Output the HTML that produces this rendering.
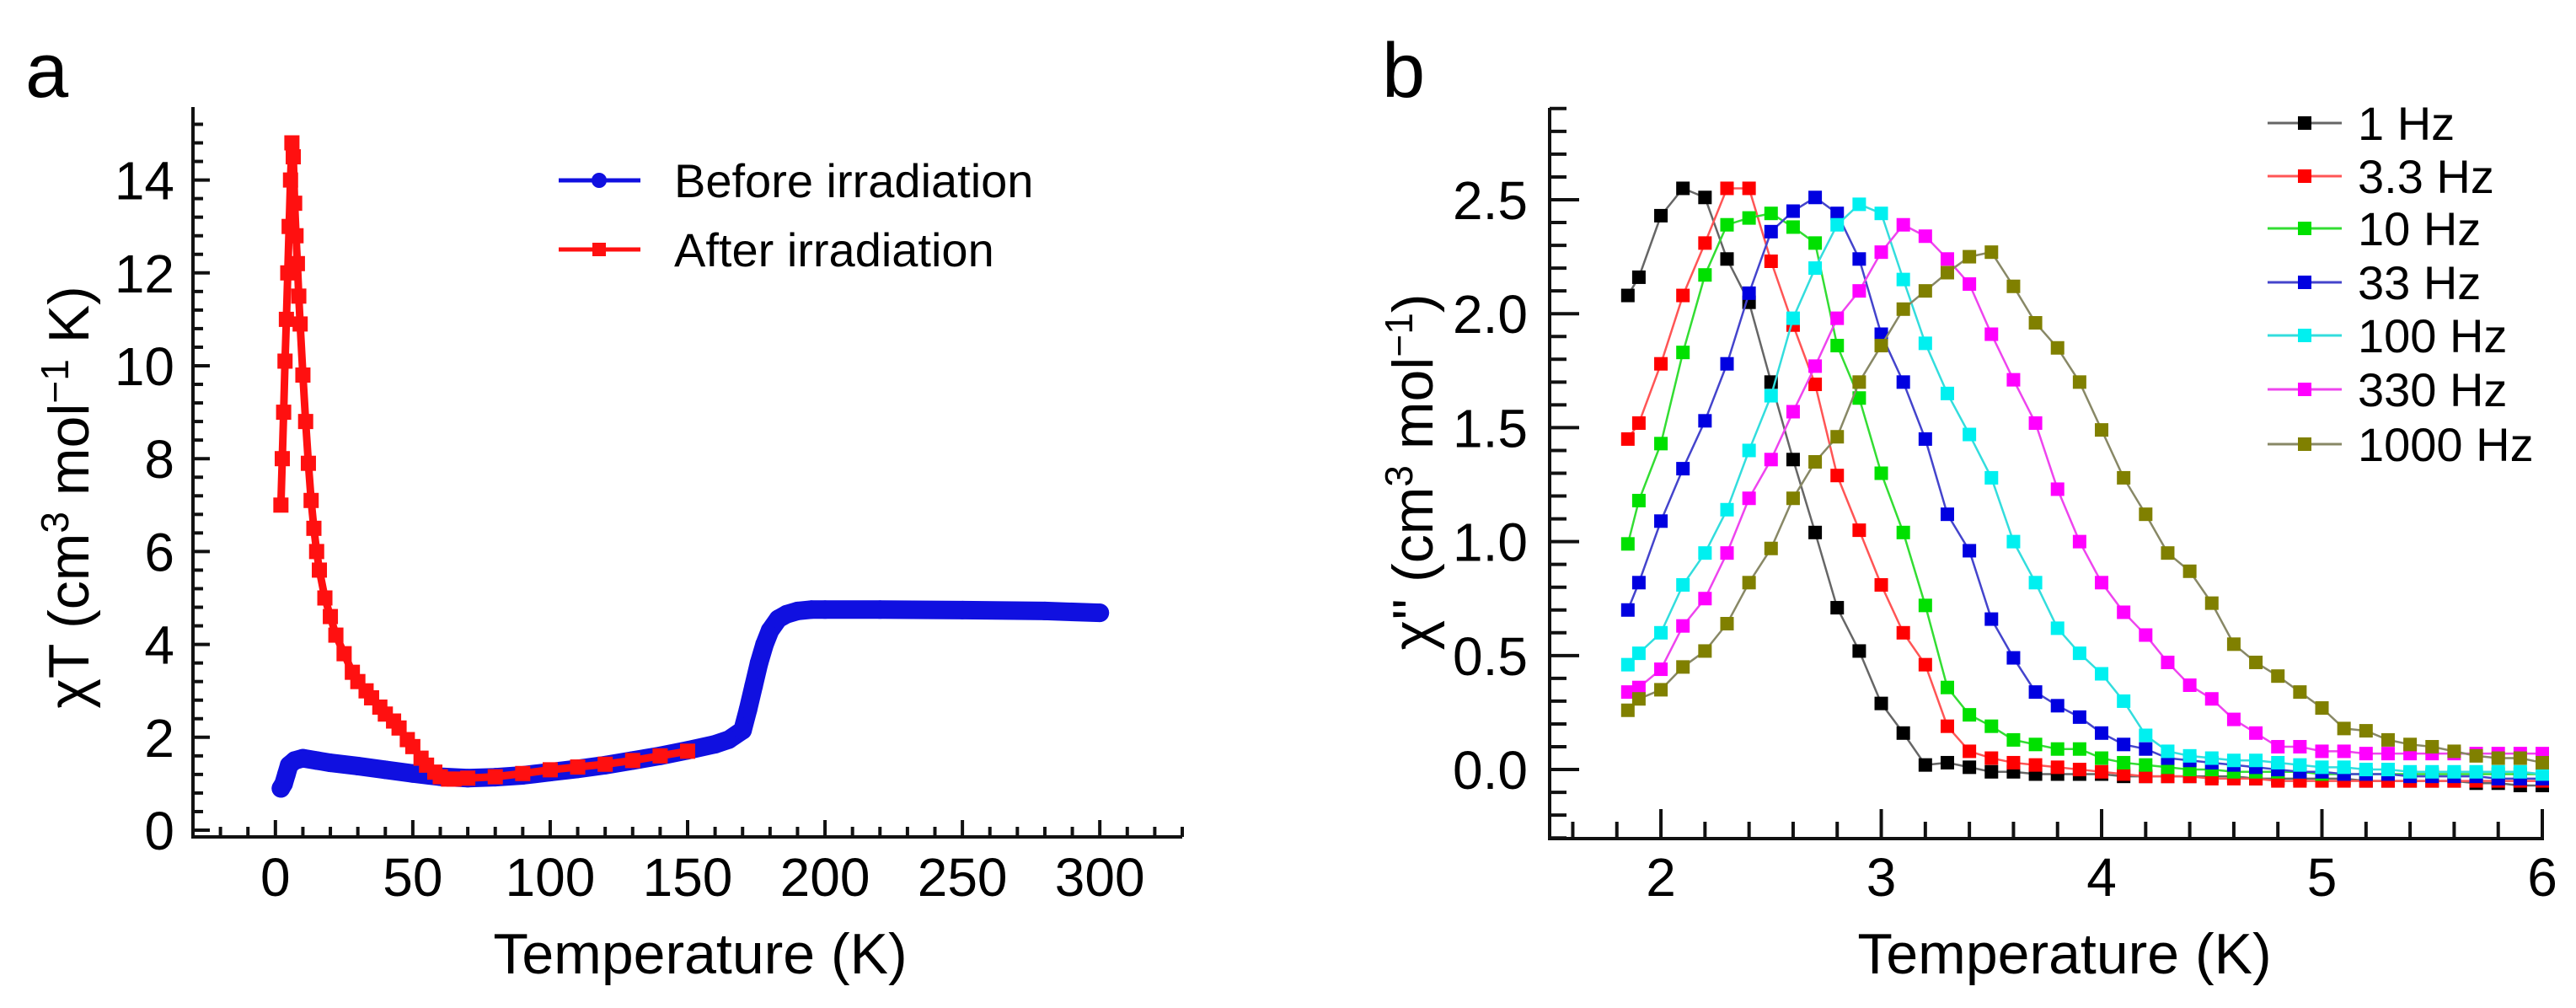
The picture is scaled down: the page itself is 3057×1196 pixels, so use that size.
<!DOCTYPE html>
<html><head><meta charset="utf-8">
<style>
html,body{margin:0;padding:0;background:#fff;}
svg{display:block;font-family:"Liberation Sans",Arial,sans-serif;}
</style></head>
<body>
<svg id="chart" width="3057" height="1196" viewBox="0 0 3057 1196" xmlns="http://www.w3.org/2000/svg">
<rect width="3057" height="1196" fill="#fff"/>
<g id="pa"></g>
<g id="pb"></g>
</svg>
<script>
// ---- Panel a data ----
const aBeforeT = [2,3,4,5,7,10,15,20,30,40,50,60,70,80,90,100,110,120,130,140,150,160,165,170,172,174,176,178,180,183,186,190,195,200,220,250,280,300];
const aBeforeY = [0.9,1.0,1.2,1.4,1.5,1.55,1.5,1.45,1.38,1.3,1.22,1.15,1.12,1.14,1.18,1.25,1.32,1.4,1.5,1.6,1.72,1.85,1.95,2.15,2.6,3.1,3.6,4.0,4.3,4.55,4.65,4.72,4.75,4.75,4.75,4.74,4.72,4.68];
const aAfterT = [2,2.5,3,3.5,4,4.5,5,5.5,6,6.5,7,7.5,8,8.5,9,10,11,12,13,14,15,16,18,20,22,25,28,30,33,35,38,40,43,45,48,50,53,55,58,60,63,65,70,80,90,100,110,120,130,140,150];
const aAfterY = [7.0,8.0,9.0,10.1,11.0,12.0,13.0,14.0,14.8,14.5,13.5,12.8,12.2,11.5,10.9,9.8,8.8,7.9,7.1,6.5,6.0,5.6,5.0,4.6,4.2,3.8,3.4,3.2,3.0,2.85,2.65,2.5,2.35,2.2,1.95,1.8,1.55,1.4,1.25,1.15,1.1,1.1,1.12,1.15,1.22,1.3,1.36,1.42,1.5,1.6,1.7];
const aXTicks = [0,50,100,150,200,250,300];
const aYTicks = [0,2,4,6,8,10,12,14];
const aLegend = ["Before irradiation","After irradiation"];

// ---- Panel b data ----
const bT = [1.85,1.9,2.0,2.1,2.2,2.3,2.4,2.5,2.6,2.7,2.8,2.9,3.0,3.1,3.2,3.3,3.4,3.5,3.6,3.7,3.8,3.9,4.0,4.1,4.2,4.3,4.4,4.5,4.6,4.7,4.8,4.9,5.0,5.1,5.2,5.3,5.4,5.5,5.6,5.7,5.8,5.9,6.0];
const b1Hz = [2.08,2.16,2.43,2.55,2.51,2.24,2.05,1.7,1.36,1.04,0.71,0.52,0.29,0.16,0.02,0.03,0.01,-0.01,-0.01,-0.02,-0.02,-0.02,-0.02,-0.03,-0.03,-0.03,-0.03,-0.03,-0.03,-0.04,-0.04,-0.04,-0.04,-0.04,-0.05,-0.05,-0.05,-0.05,-0.05,-0.06,-0.06,-0.07,-0.07];
const b3Hz = [1.45,1.52,1.78,2.08,2.31,2.55,2.55,2.23,1.95,1.69,1.29,1.05,0.81,0.60,0.46,0.19,0.08,0.05,0.03,0.02,0.01,0.0,-0.01,-0.02,-0.03,-0.03,-0.03,-0.04,-0.04,-0.04,-0.05,-0.05,-0.05,-0.05,-0.05,-0.05,-0.05,-0.05,-0.05,-0.05,-0.05,-0.05,-0.05];
const b10Hz = [0.99,1.18,1.43,1.83,2.17,2.39,2.42,2.44,2.38,2.31,1.86,1.63,1.30,1.04,0.72,0.36,0.24,0.19,0.13,0.11,0.09,0.09,0.05,0.03,0.02,0.01,0.0,0.0,-0.01,-0.01,-0.01,-0.01,-0.02,-0.02,-0.02,-0.02,-0.02,-0.02,-0.02,-0.02,-0.02,-0.02,-0.02];
const b33Hz = [0.70,0.82,1.09,1.32,1.53,1.78,2.09,2.36,2.45,2.51,2.44,2.24,1.91,1.70,1.45,1.12,0.96,0.66,0.49,0.34,0.28,0.23,0.16,0.11,0.09,0.05,0.04,0.03,0.02,0.01,0.0,-0.01,-0.01,-0.02,-0.02,-0.02,-0.03,-0.03,-0.03,-0.03,-0.04,-0.04,-0.04];
const b100Hz = [0.46,0.51,0.60,0.81,0.95,1.14,1.40,1.64,1.98,2.20,2.39,2.48,2.44,2.15,1.87,1.65,1.47,1.28,1.00,0.82,0.62,0.51,0.42,0.30,0.15,0.08,0.06,0.05,0.04,0.04,0.03,0.02,0.01,0.01,0.0,0.0,-0.01,-0.01,-0.01,-0.01,-0.01,-0.01,-0.02];
const b330Hz = [0.34,0.36,0.44,0.63,0.75,0.95,1.19,1.36,1.57,1.77,1.98,2.10,2.27,2.39,2.34,2.24,2.13,1.91,1.71,1.52,1.23,1.00,0.82,0.69,0.59,0.47,0.37,0.31,0.22,0.16,0.10,0.10,0.08,0.08,0.07,0.07,0.07,0.07,0.07,0.07,0.07,0.07,0.07];
const b1000Hz = [0.26,0.31,0.35,0.45,0.52,0.64,0.82,0.97,1.19,1.35,1.46,1.70,1.86,2.02,2.10,2.18,2.25,2.27,2.12,1.96,1.85,1.70,1.49,1.28,1.12,0.95,0.87,0.73,0.55,0.47,0.41,0.34,0.27,0.18,0.17,0.13,0.11,0.10,0.08,0.06,0.05,0.05,0.03];
const bSeriesNames = ["1 Hz","3.3 Hz","10 Hz","33 Hz","100 Hz","330 Hz","1000 Hz"];
const bXTicks = [2,3,4,5,6];
const bYTicks = [0.0,0.5,1.0,1.5,2.0,2.5];
const bYTickLabels = ["0.0","0.5","1.0","1.5","2.0","2.5"];

const NS="http://www.w3.org/2000/svg";
function mk(parent,tag,attrs,text){const e=document.createElementNS(NS,tag);for(const k in attrs)e.setAttribute(k,attrs[k]);if(text!==undefined)e.textContent=text;parent.appendChild(e);return e;}

// ===== Panel a =====
(function(){
const g=document.getElementById('pa');
const X0=229,X1=1403,Y0=993,Y1=127;
const xmin=-30,xmax=330;
const yPx=55.1, yZero=985;
const sx=v=>X0+(v-xmin)/(xmax-xmin)*(X1-X0);
const sy=v=>yZero-v*yPx;
let t=mk(g,'text',{x:30,y:115,'font-size':92,fill:'#000'},'a');


let ax=mk(g,'path',{d:`M${X0},${Y1} V${Y0} H${X1}`,stroke:'#111',fill:'none','stroke-width':4});


for(let v=-20;v<=330;v+=10){const maj=(v%50===0);const l=mk(g,'line',{x1:sx(v),x2:sx(v),y1:Y0,y2:Y0-(maj?20:12),stroke:'#111','stroke-width':4});

}
for(let i=0;i*0.4<=15.5;i++){const v=i*0.4;const maj=(i%5===0);const l=mk(g,'line',{x1:X0,x2:X0+(maj?20:12),y1:sy(v),y2:sy(v),stroke:'#111','stroke-width':4});

}
aXTicks.forEach(v=>{const e=mk(g,'text',{x:sx(v),y:1063,'font-size':64,'text-anchor':'middle'},String(v));

});
aYTicks.forEach(v=>{const e=mk(g,'text',{x:207,y:sy(v)+23,'font-size':64,'text-anchor':'end'},String(v));

});
let xt=mk(g,'text',{x:831,y:1155,'font-size':68,'text-anchor':'middle'},'Temperature (K)');


let yt=mk(g,'text',{x:0,y:0,'font-size':68,'text-anchor':'middle',transform:'translate(105,590) rotate(-90)'});


yt.innerHTML='χT (cm<tspan dy="-24" font-size="46">3</tspan><tspan dy="24"> mol</tspan><tspan dy="-24" font-size="46">−1</tspan><tspan dy="24"> K)</tspan>';
const bp=aBeforeT.map((v,i)=>`${sx(v)},${sy(aBeforeY[i])}`).join(' ');
let bl=mk(g,'polyline',{points:bp,fill:'none',stroke:'#1010e0','stroke-width':22,'stroke-linejoin':'round','stroke-linecap':'round'});


aBeforeT.forEach((v,i)=>{const c=mk(g,'circle',{cx:sx(v),cy:sy(aBeforeY[i]),r:11,fill:'#1010e0'});

});
const rp=aAfterT.map((v,i)=>`${sx(v)},${sy(aAfterY[i])}`).join(' ');
let rl=mk(g,'polyline',{points:rp,fill:'none',stroke:'#ff1010','stroke-width':9,'stroke-linejoin':'round'});


aAfterT.forEach((v,i)=>{const s=mk(g,'rect',{x:sx(v)-9,y:sy(aAfterY[i])-9,width:18,height:18,fill:'#ff1010'});

});
const ly=[214,296], cols=['#1010e0','#ff1010'];
aLegend.forEach((name,i)=>{
 const lg=mk(g,'g',{});
 
 
 mk(lg,'line',{x1:663,x2:760,y1:ly[i],y2:ly[i],stroke:cols[i],'stroke-width':5});
 if(i===0) mk(lg,'circle',{cx:711,cy:ly[i],r:9,fill:cols[i]}); else mk(lg,'rect',{x:703,y:ly[i]-8,width:16,height:16,fill:cols[i]});
 mk(lg,'text',{x:800,y:ly[i]+20,'font-size':56},name);
});
})();

// ===== Panel b =====
(function(){
const g=document.getElementById('pb');
const X0=1839,X1=3017,Y0=995,Y1=128;
const xmin=1.495,xmax=6.0,ymin=-0.303,ymax=2.903;
const sx=v=>X0+(v-xmin)/(xmax-xmin)*(X1-X0);
const sy=v=>Y0-(v-ymin)/(ymax-ymin)*(Y0-Y1);
let t=mk(g,'text',{x:1640,y:115,'font-size':92},'b');


let ax=mk(g,'path',{d:`M${X0},${Y1} V${Y0} H${X1} V${Y0-30}`,stroke:'#111',fill:'none','stroke-width':4});


for(let i=8;i<=30;i++){const v=i*0.2;const maj=(i%5===0);const l=mk(g,'line',{x1:sx(v),x2:sx(v),y1:Y0,y2:Y0-(maj?35:20),stroke:'#111','stroke-width':4});

}
for(let i=-3;i<=29;i++){const v=i*0.1;const maj=(i%5===0);const l=mk(g,'line',{x1:X0,x2:X0+(maj?35:20),y1:sy(v),y2:sy(v),stroke:'#111','stroke-width':4});

}
bXTicks.forEach(v=>{const e=mk(g,'text',{x:sx(v),y:1063,'font-size':64,'text-anchor':'middle'},String(v));

});
bYTicks.forEach((v,i)=>{const e=mk(g,'text',{x:1813,y:sy(v)+23,'font-size':64,'text-anchor':'end'},bYTickLabels[i]);

});
let xt=mk(g,'text',{x:2450,y:1155,'font-size':68,'text-anchor':'middle'},'Temperature (K)');


let yt=mk(g,'text',{x:0,y:0,'font-size':68,'text-anchor':'middle',transform:'translate(1700,560) rotate(-90)'});


yt.innerHTML='χ\'\' (cm<tspan dy="-24" font-size="46">3</tspan><tspan dy="24"> mol</tspan><tspan dy="-24" font-size="46">−1</tspan><tspan dy="24">)</tspan>';
const series=[b1Hz,b3Hz,b10Hz,b33Hz,b100Hz,b330Hz,b1000Hz];
const cols=['#000000','#ff0000','#00e000','#0000e0','#00f0f0','#ff00ff','#808000'];
const lcols=['#666','#f55','#3d3','#44c','#3dd','#e4e','#886'];
series.forEach((arr,si)=>{
 const sg=mk(g,'g',{});
 
 
 mk(sg,'polyline',{points:bT.map((v,i)=>`${sx(v)},${sy(arr[i])}`).join(' '),fill:'none',stroke:lcols[si],'stroke-width':2.5});
 bT.forEach((v,i)=>{const r=mk(sg,'rect',{x:sx(v)-8,y:sy(arr[i])-8,width:16,height:16,fill:cols[si]});
 
 });
});
const ly=[146,209,271,335,398,462,527];
bSeriesNames.forEach((name,i)=>{
 const lg=mk(g,'g',{});
 
 
 mk(lg,'line',{x1:2691,x2:2779,y1:ly[i],y2:ly[i],stroke:lcols[i],'stroke-width':3});
 mk(lg,'rect',{x:2727,y:ly[i]-8,width:16,height:16,fill:cols[i]});
 mk(lg,'text',{x:2798,y:ly[i]+20,'font-size':56},name);
});
})();
</script>
</body></html>
